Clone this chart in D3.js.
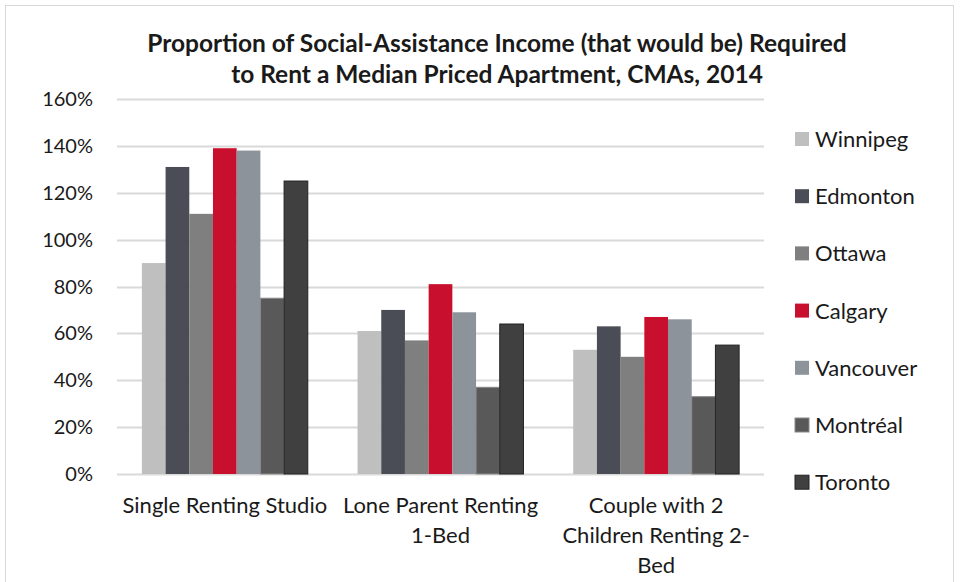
<!DOCTYPE html>
<html>
<head>
<meta charset="utf-8">
<script src="https://cdn.jsdelivr.net/npm/d3@7"></script>
<style>
  body { margin: 0; background: #fff; }
  text { font-family: Lato, "Open Sans", sans-serif; fill: #1a1a1a; }
</style>
</head>
<body>
<svg id="chart" width="963" height="582"></svg>
<script>
const categories = [
    ["Single Renting Studio"],
    ["Lone Parent Renting", "1-Bed"],
    ["Couple with 2", "Children Renting 2-", "Bed"]
];
const cities = ["Winnipeg", "Edmonton", "Ottawa", "Calgary", "Vancouver", "Montréal", "Toronto"];
const city_colors = ["#bfbfbf", "#4a4d55", "#7f7f7f", "#c8102e", "#8c939b", "#595959", "#404040"];
const city_strokes = ["none", "none", "none", "none", "none", "#8a8a8a", "#222"];
// values per category, in city order (%)
const single_studio = [90, 131, 111, 139, 138, 75, 125];
const lone_parent = [61, 70, 57, 81, 69, 37, 64];
const couple_two_kids = [53, 63, 50, 67, 66, 33, 55];
const y_ticks = [0, 20, 40, 60, 80, 100, 120, 140, 160];

const series_values = [single_studio, lone_parent, couple_two_kids];

const svg = d3.select("#chart");
const plot_left = 117, plot_right = 764, plot_top = 99, plot_bottom = 474;

// chart border
svg.append("rect")
    .attr("x", 5.5).attr("y", 5.5)
    .attr("width", 948).attr("height", 590)
    .attr("fill", "none")
    .attr("stroke", "#d9d9d9");

const y = d3.scaleLinear().domain([0, 160]).range([plot_bottom, plot_top]);
const x0 = d3.scaleBand().domain(d3.range(categories.length)).range([plot_left, plot_right]).paddingInner(0).paddingOuter(0);
const bar_w = 23.7;
const group_w = bar_w * cities.length;
const x1 = d3.scaleBand().domain(d3.range(cities.length)).range([0, group_w]).padding(0);

// gridlines
svg.append("g")
    .selectAll("line")
    .data(y_ticks)
    .enter()
    .append("line")
    .attr("x1", plot_left)
    .attr("x2", plot_right)
    .attr("y1", d => Math.round(y(d)) + 0.5)
    .attr("y2", d => Math.round(y(d)) + 0.5)
    .attr("stroke", "#d9d9d9")
    .attr("stroke-width", 2);

// y tick labels
svg.append("g")
    .selectAll("text")
    .data(y_ticks)
    .enter()
    .append("text")
    .attr("x", 93)
    .attr("y", d => y(d) + 7)
    .attr("text-anchor", "end")
    .style("font-size", "20px")
    .text(d => d + "%");

// bars
const groups = svg.append("g")
    .selectAll("g")
    .data(series_values)
    .enter()
    .append("g")
    .attr("transform", (d, i) => `translate(${x0(i) + (x0.bandwidth() - group_w) / 2},0)`);

groups.selectAll("rect")
    .data(d => d)
    .enter()
    .append("rect")
    .attr("x", (d, i) => x1(i))
    .attr("y", d => y(d))
    .attr("width", x1.bandwidth())
    .attr("height", d => plot_bottom - y(d))
    .attr("fill", (d, i) => city_colors[i])
    .attr("stroke", (d, i) => city_strokes[i])
    .attr("stroke-width", 1);

// category labels
const cat_labels = svg.append("g")
    .selectAll("text")
    .data(categories)
    .enter()
    .append("text")
    .attr("x", (d, i) => x0(i) + x0.bandwidth() / 2)
    .attr("text-anchor", "middle")
    .style("font-size", "22px");

cat_labels.selectAll("tspan")
    .data(d => d)
    .enter()
    .append("tspan")
    .attr("x", function () { return d3.select(this.parentNode).attr("x"); })
    .attr("y", (d, i) => 513 + i * 30)
    .text(d => d);

// title
const title_lines = ["Proportion of Social-Assistance Income (that would be) Required", "to Rent a Median Priced Apartment, CMAs, 2014"];
svg.append("g")
    .selectAll("text")
    .data(title_lines)
    .enter()
    .append("text")
    .attr("x", 497)
    .attr("y", (d, i) => 52 + i * 31)
    .attr("text-anchor", "middle")
    .style("font-size", "24.5px")
    .style("font-weight", "bold")
    .text(d => d);

// legend
const legend = svg.append("g")
    .selectAll("g")
    .data(cities)
    .enter()
    .append("g")
    .attr("transform", (d, i) => `translate(795,${139 + i * 57.2})`);

legend.append("rect")
    .attr("x", 0)
    .attr("y", -7)
    .attr("width", 14)
    .attr("height", 14)
    .attr("fill", (d, i) => city_colors[i])
    .attr("stroke", (d, i) => city_strokes[i]);

legend.append("text")
    .attr("x", 20)
    .attr("y", 8)
    .style("font-size", "22px")
    .text(d => d);
</script>
</body>
</html>
